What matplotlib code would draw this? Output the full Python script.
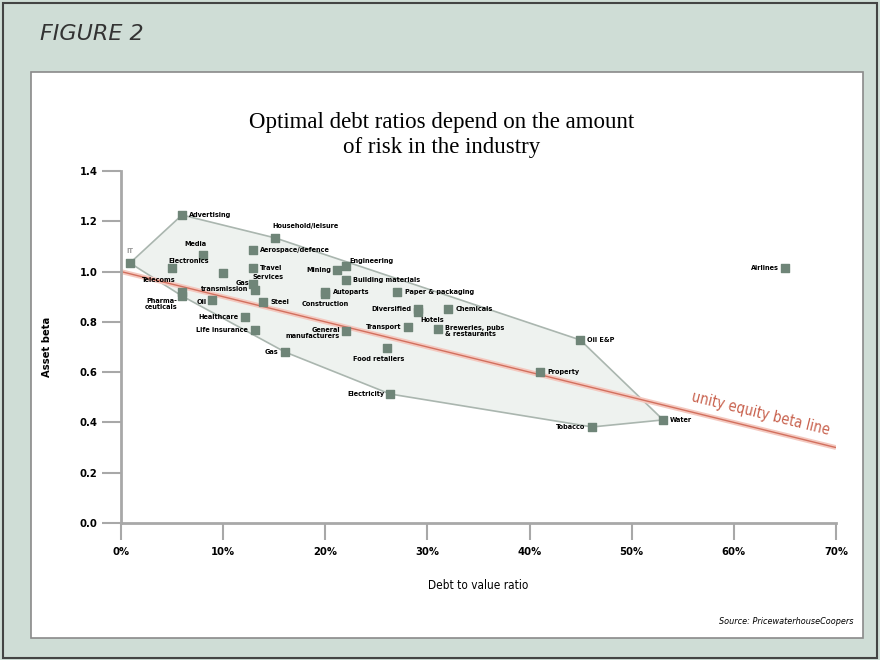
import numpy as np
import matplotlib
matplotlib.use("Agg")
import matplotlib.pyplot as plt
from matplotlib.patches import Rectangle, Polygon

# industries: debt to value ratio (%) and asset beta
names = ["Advertising", "Household/leisure", "Aerospace/defence", "Media", "IT",
         "Electronics", "", "Travel", "Services", "Gas\ntransmission",
         "Mining", "Engineering", "Building materials", "Autoparts", "Construction",
         "Paper & packaging", "Diversified", "Hotels", "Chemicals", "Transport",
         "Breweries, pubs\n& restaurants", "Food retailers", "General\nmanufacturers",
         "Steel", "Oil", "Telecoms", "Pharma-\nceuticals", "Healthcare",
         "Life insurance", "Gas", "Electricity", "Property", "Oil E&P",
         "Tobacco", "Water", "Airlines"]
debt = [5.97, 15.08, 12.93, 8.03, 0.88,
        5.0, 9.99, 12.93, 12.93, 13.1,
        21.16, 22.04, 22.04, 19.98, 19.98,
        27.03, 29.09, 29.09, 32.03, 28.11,
        31.05, 26.05, 22.04,
        13.91, 8.91, 5.97, 5.97, 12.14,
        13.12, 16.06, 26.35, 41.04, 44.96,
        46.13, 53.08, 65.03]
beta = [1.225, 1.134, 1.086, 1.066, 1.034,
        1.014, 0.994, 1.014, 0.951, 0.927,
        1.006, 1.022, 0.967, 0.919, 0.911,
        0.919, 0.851, 0.839, 0.851, 0.78,
        0.772, 0.696, 0.764,
        0.879, 0.887, 0.919, 0.903, 0.819,
        0.768, 0.68, 0.513, 0.601, 0.728,
        0.382, 0.41, 1.014]

# label offsets in pixels and alignment
offs = [(7, 0, "left", "center"), (-3, 12, "left", "center"), (7, 0, "left", "center"),
        (-8, 11, "center", "center"), (0, 12, "center", "center"),
        (-4, 7, "left", "center"), (0, 0, "left", "center"), (7, 0, "left", "center"),
        (-1, 7, "left", "center"), (-6, 4, "right", "center"),
        (-6, 0, "right", "center"), (3, 5, "left", "center"), (7, 0, "left", "center"),
        (8, 0, "left", "center"), (0, -10, "center", "center"),
        (8, 0, "left", "center"), (-7, 0, "right", "center"), (2, -8, "left", "center"),
        (7, 0, "left", "center"), (-7, 0, "right", "center"),
        (7, 4, "left", "top"), (-8, -11, "center", "center"), (-6, 4, "right", "top"),
        (7, 0, "left", "center"), (-5, -2, "right", "center"), (-6, 12, "right", "center"),
        (-5, -2, "right", "top"), (-7, 0, "right", "center"),
        (-7, 0, "right", "center"), (-7, 0, "right", "center"), (-6, 0, "right", "center"),
        (7, 0, "left", "center"), (7, 0, "left", "center"),
        (-7, 0, "right", "center"), (7, 0, "left", "center"), (-6, 0, "right", "center")]

x_ticks = [0, 10, 20, 30, 40, 50, 60, 70]
y_ticks = [0.0, 0.2, 0.4, 0.6, 0.8, 1.0, 1.2, 1.4]

fig = plt.figure(figsize=(8.8, 6.6), dpi=100, facecolor="#cfddd6")

# outer border and white panel, kept behind the axes
fig.patches.append(Rectangle((0.003, 0.003), 0.994, 0.992, transform=fig.transFigure,
                             fill=False, edgecolor="#444444", lw=1.5, zorder=-10))
fig.patches.append(Rectangle((31 / 880, 1 - 638 / 660), 832 / 880, 566 / 660,
                             transform=fig.transFigure, facecolor="white",
                             edgecolor="#8a8a8a", lw=1.2, zorder=-9))
fig.text(40 / 880, 1 - 34 / 660, "FIGURE 2", fontsize=16, style="italic",
         color="#333333", va="center", ha="left")

fig.text(442 / 880, 1 - 135 / 660,
         "Optimal debt ratios depend on the amount\nof risk in the industry",
         family="Liberation Serif", fontsize=16.5, ha="center", va="center",
         linespacing=1.2)

ax = fig.add_axes([121 / 880, 1 - 523 / 660, 715 / 880, 352 / 660])
ax.patch.set_alpha(0)
ax.set_xlim(0, 70)
ax.set_ylim(0, 1.4)
for s in ["top", "right"]:
    ax.spines[s].set_visible(False)
for s in ["left", "bottom"]:
    ax.spines[s].set_color("#a8a8a8")
    ax.spines[s].set_linewidth(2)
ax.tick_params(axis="both", length=14, width=1.5, color="#a8a8a8", labelsize=8)
ax.tick_params(axis="x", length=12, pad=5)
ax.tick_params(axis="y", pad=3)
ax.set_xticks(x_ticks)
ax.set_xticklabels([f"{t}%" for t in x_ticks], fontstretch="condensed", weight="bold")
ax.set_yticks(y_ticks)
ax.set_yticklabels([f"{t:.1f}" for t in y_ticks], fontstretch="condensed", weight="bold")
ax.set_xlabel("Debt to value ratio", fontsize=8.5, fontstretch="condensed", labelpad=16)
ax.set_ylabel("Asset beta", fontsize=8, fontstretch="condensed", weight="bold", labelpad=20)

# convex hull of all industries except airlines
pts = sorted(zip(debt[:-1], beta[:-1]))
def cross(o, a, b):
    return (a[0] - o[0]) * (b[1] - o[1]) - (a[1] - o[1]) * (b[0] - o[0])
lower, upper = [], []
for p in pts:
    while len(lower) >= 2 and cross(lower[-2], lower[-1], p) <= 0:
        lower.pop()
    lower.append(p)
for p in reversed(pts):
    while len(upper) >= 2 and cross(upper[-2], upper[-1], p) <= 0:
        upper.pop()
    upper.append(p)
hull = lower[:-1] + upper[:-1]
ax.add_patch(Polygon(hull, closed=True, facecolor="#eef2ef", edgecolor="#aab6af",
                     lw=1.2, zorder=1))

# unity equity beta line
line_x = np.array([0, 70])
ax.plot(line_x, 1 - line_x / 100, color="#f4c9c0", lw=3.5, zorder=2, solid_capstyle="butt")
ax.plot(line_x, 1 - line_x / 100, color="#d2705e", lw=1.0, zorder=2)
ang = np.degrees(np.arctan((0.7 * 352 / 1.4) / 715))
ax.text(62.6, 0.435, "unity equity beta line", color="#c8614d", fontsize=10.5,
        rotation=-ang, ha="center", va="center", fontstretch="condensed", zorder=3)

ax.scatter(debt, beta, marker="s", s=38, color="#6f8578", zorder=4, clip_on=False)

for n, x, y, (dx, dy, ha, va) in zip(names, debt, beta, offs):
    if not n:
        continue
    col = "#9a9a9a" if n == "IT" else "black"
    ax.annotate(n, (x, y), xytext=(dx, dy), textcoords="offset pixels",
                fontsize=5.2, weight="bold", ha=ha, va=va, color=col,
                fontstretch="condensed", linespacing=1.1, zorder=5)

fig.text(853 / 880, 1 - 621 / 660, "Source: PricewaterhouseCoopers", fontsize=6.5,
         style="italic", ha="right", va="center", fontstretch="condensed")

fig.savefig("out.png", dpi=100, facecolor=fig.get_facecolor())
